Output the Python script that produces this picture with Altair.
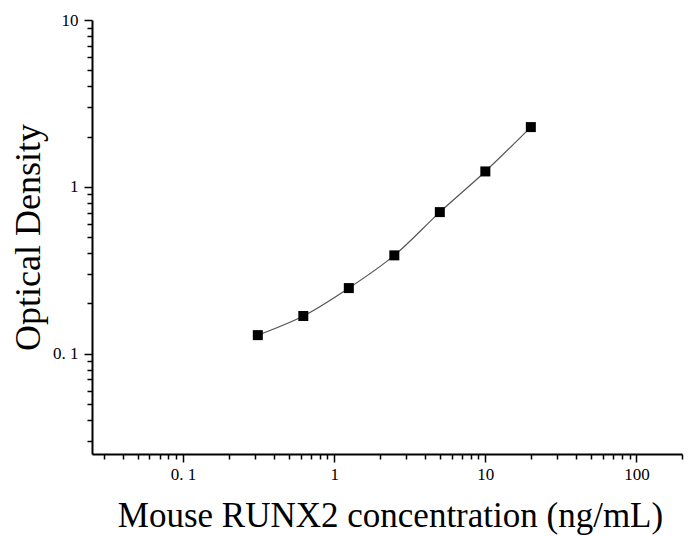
import altair as alt
import pandas as pd

# Data
conc = [0.3125, 0.625, 1.25, 2.5, 5, 10, 20]
od = [0.129, 0.168, 0.247, 0.388, 0.705, 1.236, 2.28]

x_major = [0.1, 1, 10, 100]
x_major_labels = ["0. 1", "1", "10", "100"]
x_minor = [0.03, 0.04, 0.05, 0.06, 0.07, 0.08, 0.09,
           0.2, 0.3, 0.4, 0.5, 0.6, 0.7, 0.8, 0.9,
           2, 3, 4, 5, 6, 7, 8, 9,
           20, 30, 40, 50, 60, 70, 80, 90, 200]
y_major = [0.1, 1, 10]
y_major_labels = ["0. 1", "1", "10"]
y_minor = [0.03, 0.04, 0.05, 0.06, 0.07, 0.08, 0.09,
           0.2, 0.3, 0.4, 0.5, 0.6, 0.7, 0.8, 0.9,
           2, 3, 4, 5, 6, 7, 8, 9]

x_title = "Mouse RUNX2 concentration (ng/mL)"
y_title = "Optical Density"

df = pd.DataFrame({"conc": conc, "od": od})


def label_expr(values, labels):
    parts = " : ".join(
        f"datum.value == {v} ? '{l}'" for v, l in zip(values, labels)
    )
    return parts + " : ''"


FONT = "Liberation Serif"
xscale = alt.Scale(type="log", domain=[0.025, 200], nice=False)
yscale = alt.Scale(type="log", domain=[0.025, 10], nice=False)

x_major_axis = alt.Axis(
    orient="bottom", values=x_major, labelExpr=label_expr(x_major, x_major_labels),
    tickSize=8, tickWidth=1.5, tickColor="black", domainColor="black", domainWidth=2,
    labelFont=FONT, labelFontSize=17, labelColor="black", labelPadding=4,
    grid=False, title=x_title, titleFont=FONT, titleFontSize=35,
    titleFontWeight="normal", titleColor="black", titleX=298, titleY=72,
    titleAlign="center", titleBaseline="alphabetic", labelFlush=False,
)
y_major_axis = alt.Axis(
    orient="left", values=y_major, labelExpr=label_expr(y_major, y_major_labels),
    tickSize=8, tickWidth=1.5, tickColor="black", domainColor="black", domainWidth=2,
    labelFont=FONT, labelFontSize=17, labelColor="black", labelPadding=6,
    grid=False, title=y_title, titleFont=FONT, titleFontSize=36,
    titleFontWeight="normal", titleColor="black", titleX=-53, titleY=217,
    titleAngle=270, titleAlign="center", titleBaseline="alphabetic", labelFlush=False,
)
x_minor_axis = alt.Axis(
    orient="bottom", values=x_minor, labels=False, domain=False, grid=False,
    tickSize=5, tickWidth=1.5, tickColor="black", title=None,
)
y_minor_axis = alt.Axis(
    orient="left", values=y_minor, labels=False, domain=False, grid=False,
    tickSize=5, tickWidth=1.5, tickColor="black", title=None,
)

base = alt.Chart(df)
line = base.mark_line(interpolate="catmull-rom", color="#555555", strokeWidth=1.2).encode(
    x=alt.X("conc:Q", scale=xscale, axis=x_minor_axis),
    y=alt.Y("od:Q", scale=yscale, axis=y_minor_axis),
)
points = base.mark_square(size=100, color="black", opacity=1).encode(
    x=alt.X("conc:Q", scale=xscale, axis=x_major_axis),
    y=alt.Y("od:Q", scale=yscale, axis=y_major_axis),
)

chart = (
    alt.layer(line, points)
    .resolve_axis(x="independent", y="independent")
    .properties(
        width=590, height=434,
        padding={"left": 84, "top": 12, "right": 2, "bottom": 82},
        autosize=alt.AutoSizeParams(type="none"),
        background="white",
    )
    .configure_view(strokeWidth=0)
)

chart.save("out.html", embed_options={"renderer": "svg", "actions": False})
